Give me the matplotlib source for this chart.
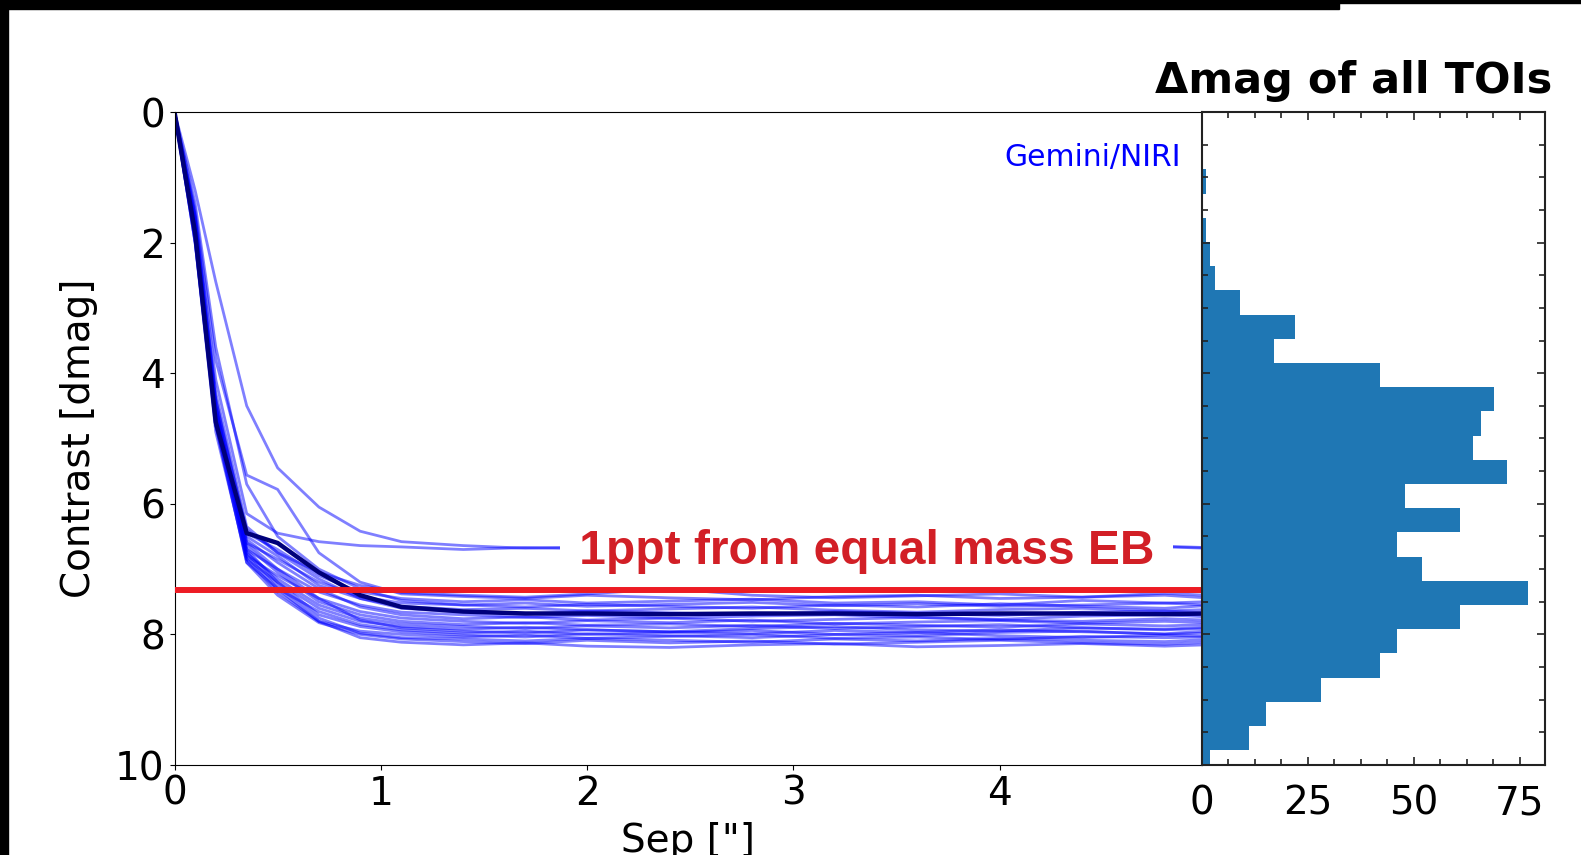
import numpy as np
import matplotlib
matplotlib.use('Agg')
import matplotlib.pyplot as plt
from matplotlib.ticker import MultipleLocator, AutoMinorLocator
from matplotlib.patches import Rectangle

W, H = 1581, 855

# separation grid ["] shared by all contrast curves
sep = [0.0, 0.1, 0.2, 0.35, 0.5, 0.7, 0.9, 1.1, 1.4, 1.7, 2.0, 2.4, 2.8, 3.2, 3.6, 4.0, 4.4, 4.8, 5.0]

# individual Gemini/NIRI contrast curves [dmag]
curves = [
    [0, 1.6, 4.3, 6.35, 6.75, 7.05, 7.25, 7.36, 7.40, 7.43, 7.38, 7.30, 7.40, 7.44, 7.41, 7.38, 7.43, 7.37, 7.40],
    [0, 1.7, 4.4, 6.45, 6.70, 7.10, 7.35, 7.45, 7.50, 7.47, 7.52, 7.49, 7.46, 7.52, 7.50, 7.55, 7.48, 7.52, 7.50],
    [0, 1.8, 4.6, 6.60, 6.85, 7.20, 7.42, 7.52, 7.55, 7.58, 7.54, 7.57, 7.60, 7.55, 7.58, 7.53, 7.57, 7.60, 7.56],
    [0, 1.9, 4.7, 6.50, 6.80, 7.25, 7.45, 7.57, 7.62, 7.60, 7.64, 7.61, 7.58, 7.63, 7.66, 7.62, 7.60, 7.64, 7.62],
    [0, 1.8, 4.5, 6.70, 7.00, 7.35, 7.55, 7.66, 7.70, 7.74, 7.71, 7.75, 7.72, 7.70, 7.74, 7.77, 7.72, 7.70, 7.73],
    [0, 2.0, 4.8, 6.55, 6.90, 7.30, 7.58, 7.70, 7.76, 7.73, 7.78, 7.75, 7.80, 7.77, 7.74, 7.78, 7.80, 7.76, 7.78],
    [0, 1.7, 4.6, 6.80, 7.10, 7.45, 7.65, 7.75, 7.80, 7.83, 7.79, 7.82, 7.78, 7.84, 7.81, 7.79, 7.83, 7.80, 7.82],
    [0, 1.9, 4.7, 6.65, 7.05, 7.50, 7.70, 7.80, 7.85, 7.82, 7.86, 7.84, 7.88, 7.83, 7.86, 7.89, 7.84, 7.87, 7.85],
    [0, 1.8, 4.5, 6.75, 7.15, 7.55, 7.75, 7.84, 7.88, 7.91, 7.87, 7.90, 7.86, 7.91, 7.88, 7.85, 7.90, 7.92, 7.89],
    [0, 2.0, 4.9, 6.85, 7.20, 7.60, 7.80, 7.88, 7.92, 7.89, 7.93, 7.96, 7.91, 7.88, 7.93, 7.95, 7.90, 7.93, 7.91],
    [0, 1.6, 4.4, 6.60, 7.00, 7.45, 7.78, 7.90, 7.95, 7.98, 7.93, 7.96, 7.99, 7.94, 7.97, 7.93, 7.96, 7.99, 7.95],
    [0, 1.9, 4.8, 6.90, 7.30, 7.65, 7.85, 7.93, 7.98, 7.95, 8.00, 7.97, 7.94, 8.00, 8.02, 7.97, 7.95, 8.00, 7.98],
    [0, 1.8, 4.6, 6.70, 7.20, 7.70, 7.88, 7.96, 8.01, 8.04, 7.99, 8.02, 8.05, 8.00, 7.97, 8.02, 8.05, 8.01, 8.03],
    [0, 2.0, 4.7, 6.85, 7.35, 7.80, 7.95, 8.00, 8.04, 8.01, 8.06, 8.03, 8.00, 8.06, 8.04, 8.08, 8.03, 8.05, 8.04],
    [0, 1.7, 4.5, 6.75, 7.25, 7.75, 7.98, 8.05, 8.07, 8.10, 8.06, 8.09, 8.12, 8.07, 8.10, 8.06, 8.09, 8.11, 8.08],
    [0, 1.9, 4.8, 6.90, 7.40, 7.82, 8.00, 8.07, 8.11, 8.14, 8.09, 8.13, 8.10, 8.15, 8.12, 8.09, 8.13, 8.15, 8.12],
    [0, 1.8, 4.6, 6.80, 7.30, 7.80, 8.05, 8.12, 8.16, 8.13, 8.18, 8.20, 8.16, 8.14, 8.19, 8.17, 8.14, 8.18, 8.16],
    [0, 1.7, 4.5, 6.40, 6.75, 7.15, 7.45, 7.60, 7.66, 7.69, 7.64, 7.67, 7.70, 7.65, 7.68, 7.71, 7.66, 7.64, 7.67],
    [0, 1.2, 2.6, 4.50, 5.45, 6.05, 6.42, 6.58, 6.64, 6.68, 6.66, 6.70, 6.67, 6.65, 6.69, 6.67, 6.70, 6.66, 6.68],
    [0, 1.5, 3.8, 5.56, 5.78, 6.75, 7.20, 7.38, 7.42, 7.45, 7.40, 7.44, 7.47, 7.42, 7.40, 7.45, 7.43, 7.40, 7.44],
    [0, 1.6, 4.1, 6.15, 6.45, 6.58, 6.64, 6.66, 6.70, 6.67, 6.69, 6.66, 6.71, 6.68, 6.66, 6.70, 6.68, 6.65, 6.67],
    [0, 1.4, 3.6, 5.70, 6.50, 7.00, 7.30, 7.48, 7.55, 7.52, 7.57, 7.54, 7.51, 7.56, 7.53, 7.57, 7.55, 7.52, 7.55],
]
median_curve = [0, 1.85, 4.75, 6.45, 6.60, 7.05, 7.40, 7.58, 7.65, 7.68, 7.68, 7.69, 7.68, 7.68, 7.69, 7.68, 7.68, 7.69, 7.68]

eb_limit = 7.32  # 1ppt from an equal mass EB

# histogram of dmag for all TOIs
hist_start = 0.88
hist_width = 0.3705
hist_counts = [1, 0, 1, 2, 3, 9, 22, 17, 42, 69, 66, 64, 72, 48, 61, 46, 52, 77, 61, 46, 42, 28, 15, 11, 2]


def fx(px):
    return px / W


def fy(py):
    return 1 - py / H


fig = plt.figure(figsize=(W / 100, H / 100), dpi=100)
fig.patch.set_facecolor('white')

## main contrast panel
ax = fig.add_axes([fx(174.5), fy(765), (1202 - 174.5) / W, (765 - 112) / H])
for c in curves:
    ax.plot(sep, c, color='blue', alpha=0.5, lw=2.0)
ax.plot(sep, median_curve, color='#00007a', lw=3.2)
ax.axhline(eb_limit, color='#ed1c24', lw=4.3, zorder=5)

ax.text(3.356, 6.92, ' 1ppt from equal mass EB ', color='#d21f26', fontsize=34.5,
        fontweight='bold', family='Liberation Sans', ha='center', va='baseline',
        bbox=dict(facecolor='white', edgecolor='none', pad=4), zorder=4)
ax.text(4.88, 0.83, 'Gemini/NIRI', color='blue', fontsize=21.5, ha='right', va='baseline')

ax.set_xlim(0, (1202 - 174.5) / 206.3)
ax.set_ylim(10, 0)
ax.set_xticks([0, 1, 2, 3, 4])
ax.set_yticks([0, 2, 4, 6, 8, 10])
ax.tick_params(labelsize=28, direction='out')

fig.text(fx(79), fy(438), 'Contrast [dmag]', rotation=90, fontsize=28, ha='center', va='center')
fig.text(fx(688), fy(852), 'Sep ["]', fontsize=28, ha='center', va='baseline')

## histogram panel
axh = fig.add_axes([fx(1202), fy(765), (1545 - 1202) / W, (765 - 112) / H])
edges = hist_start + hist_width * np.arange(len(hist_counts) + 1)
axh.stairs(hist_counts, edges, orientation='horizontal', fill=True, color='#1f77b4')
axh.set_xlim(0, 81)
axh.set_ylim(10, 0)
axh.xaxis.set_major_locator(MultipleLocator(25))
axh.xaxis.set_minor_locator(AutoMinorLocator(4))
axh.yaxis.set_major_locator(MultipleLocator(2))
axh.yaxis.set_minor_locator(AutoMinorLocator(4))
axh.tick_params(which='both', direction='in', top=True, right=True, left=True, bottom=True,
                labelleft=False, labelsize=28, width=1.2, color='#222222')
axh.tick_params(which='major', length=6)
axh.tick_params(which='minor', length=4)
axh.tick_params(axis='x', pad=14)
for s in axh.spines.values():
    s.set_linewidth(1.5)
    s.set_color('#222222')

fig.text(fx(1354), fy(93), '\u0394mag of all TOIs', fontsize=31, fontweight='bold',
         ha='center', va='baseline')

# black frame left over from the screenshot
fig.add_artist(Rectangle((0, 0), fx(8), 1, transform=fig.transFigure, color='black'))
fig.add_artist(Rectangle((0, fy(9)), fx(1339), 9 / H, transform=fig.transFigure, color='black'))
fig.add_artist(Rectangle((fx(1339), fy(3)), 1 - fx(1339), 3 / H, transform=fig.transFigure, color='black'))

fig.savefig('out.png', dpi=100)
